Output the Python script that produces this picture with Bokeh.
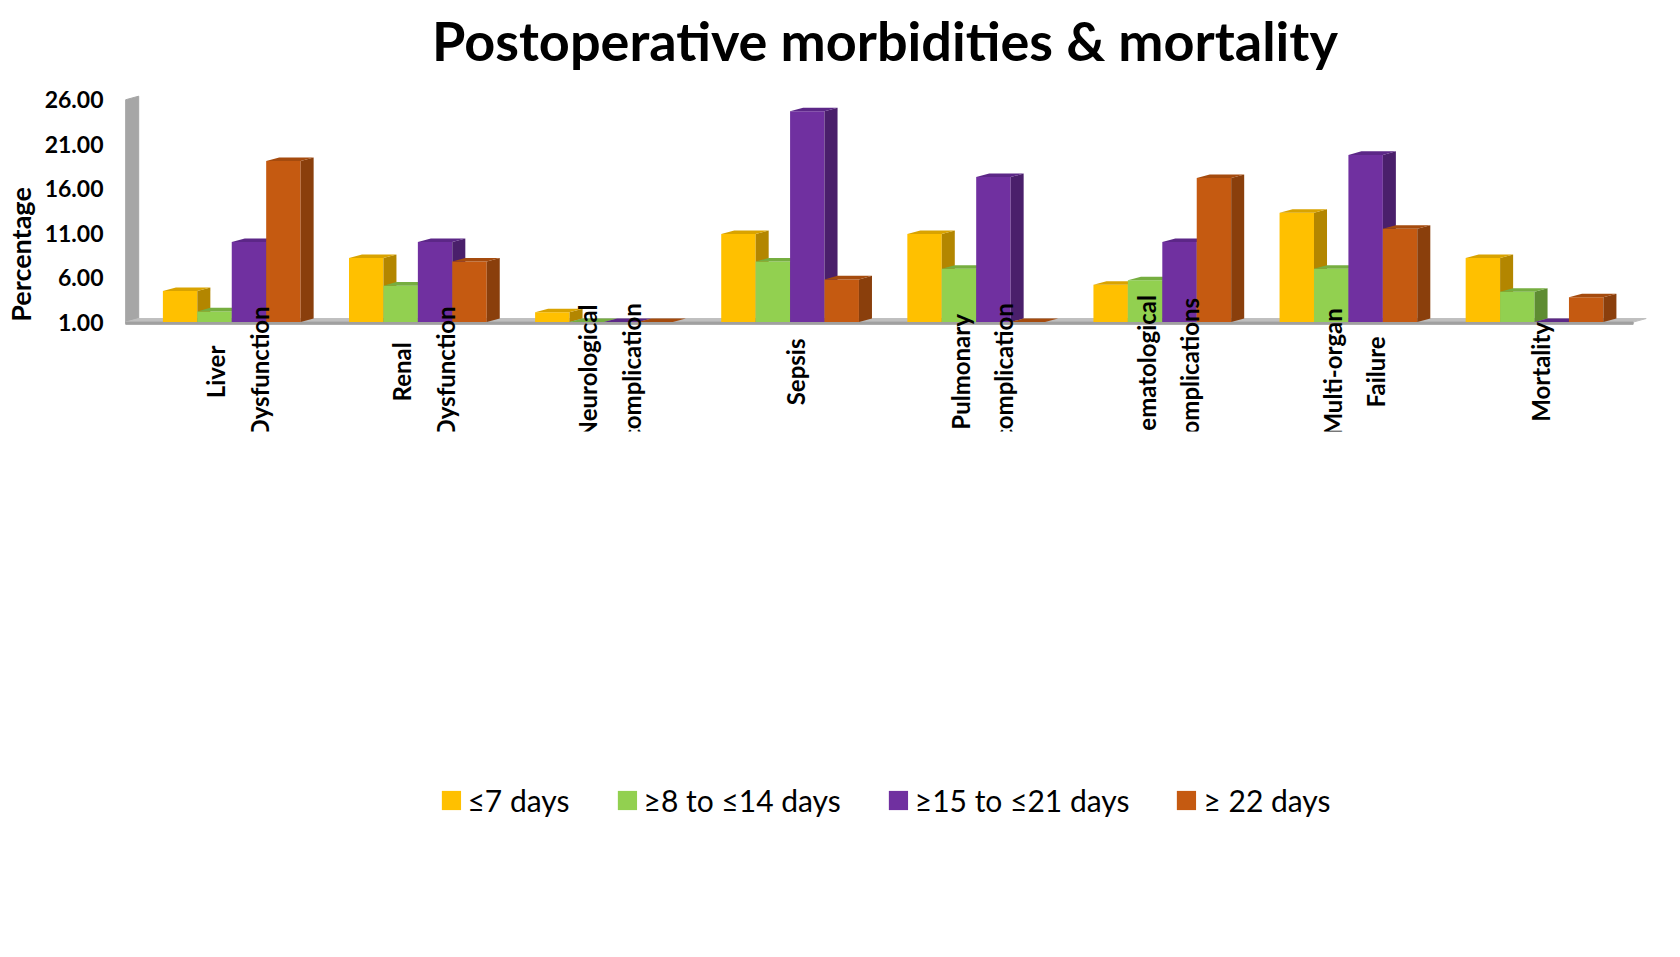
import math
from bokeh.plotting import figure
from bokeh.models import FixedTicker, Legend, LegendItem, Range1d, NumeralTickFormatter
from bokeh.core.properties import value
from bokeh.embed import file_html
from bokeh.resources import INLINE

categories = ["Liver\nDysfunction", "Renal\nDysfunction", "Neurological\ncomplication", "Sepsis",
              "Pulmonary\ncomplication", "Hematological\ncomplications", "Multi-organ\nFailure", "Mortality"]
series_names = ["≤7 days", "≥8 to ≤14 days", "≥15 to ≤21 days", "≥ 22 days"]
le7 = [4.5, 8.2, 2.1, 10.9, 10.9, 5.2, 13.3, 8.2]
d8_14 = [2.2, 5.1, 1.0, 7.8, 7.0, 5.7, 7.0, 4.4]
d15_21 = [10.0, 10.0, 1.0, 24.7, 17.3, 10.0, 19.8, 1.0]
ge22 = [19.1, 7.8, 1.0, 5.8, 1.0, 17.2, 11.5, 3.8]
y_ticks = [1, 6, 11, 16, 21, 26]

series = [le7, d8_14, d15_21, ge22]
front = ["#FFC000", "#92D050", "#7030A0", "#C55A11"]
side = ["#B38600", "#5E8C32", "#4A1F6B", "#8A3F0C"]
topc = ["#D9A300", "#76AE40", "#5C2787", "#A54B0E"]

base = 1.0
w = 0.185
dx, dy = 0.07, 0.4

p = figure(width=1660, height=935, output_backend="svg", toolbar_location=None,
           x_range=Range1d(-0.66, 7.62), y_range=Range1d(-11.3, 28.5),
           title="Postoperative morbidities & mortality", min_border_left=60)
p.title.align = "center"
p.title.text_font = "Lato"
p.title.text_font_size = "54px"
p.title.text_font_style = "bold"
p.title.text_color = "black"
p.outline_line_color = None
p.xgrid.visible = False
p.ygrid.visible = False

# wall and floor
p.patch([-0.6, -0.6 + dx, -0.6 + dx, -0.6], [base, base + dy, 26 + dy, 26], color="#A6A6A6")
p.patch([-0.6, 7.5, 7.5 + dx, -0.6 + dx], [base, base, base + dy, base + dy], color="#BFBFBF")
p.patch([-0.6, 7.5, 7.5, -0.6], [base - 0.25, base - 0.25, base, base], color="#A0A0A0")

items = []
for i, vals in enumerate(series):
    xs = [c + (i - 1.5) * w - 0.03 for c in range(len(categories))]
    r = p.vbar(x=xs, top=vals, bottom=base, width=w, color=front[i], line_color=None)
    items.append(LegendItem(label=series_names[i], renderers=[r]))
    sx, sy, tx, ty = [], [], [], []
    for x, v in zip(xs, vals):
        sx.append([x + w / 2, x + w / 2, x + w / 2 + dx, x + w / 2 + dx])
        sy.append([base, v, v + dy, base + dy])
        tx.append([x - w / 2, x + w / 2, x + w / 2 + dx, x - w / 2 + dx])
        ty.append([v, v, v + dy, v + dy])
    p.patches(sx, sy, color=side[i], line_color=None)
    p.patches(tx, ty, color=topc[i], line_color=None)

# category labels, rotated to read bottom-to-top
p.text(x=list(range(len(categories))), y=[-4.6] * len(categories), text=categories,
       angle=math.pi / 2, text_align="center", text_baseline="middle",
       text_font=value("Lato"), text_font_size="24px", text_font_style="bold",
       text_color="black", text_line_height=1.5)

p.xaxis.visible = False

p.yaxis.ticker = FixedTicker(ticks=y_ticks)
p.yaxis.formatter = NumeralTickFormatter(format="0.00")
p.yaxis.axis_label = "Percentage"
p.yaxis.axis_label_text_font = "Lato"
p.yaxis.axis_label_text_font_size = "27px"
p.yaxis.axis_label_text_font_style = "bold"
p.yaxis.axis_label_text_color = "black"
p.yaxis.major_label_text_font = "Lato"
p.yaxis.major_label_text_font_size = "23px"
p.yaxis.major_label_text_font_style = "bold"
p.yaxis.major_label_text_color = "black"
p.yaxis.axis_line_color = None
p.yaxis.major_tick_line_color = None
p.yaxis.minor_tick_line_color = None

leg = Legend(items=items, orientation="horizontal", location="center",
             label_text_font="Lato", label_text_font_size="30px", label_text_color="black",
             glyph_width=24, glyph_height=24, spacing=45, border_line_color=None, padding=2, margin=2)
p.add_layout(leg, "below")

open("out.html", "w").write(file_html(p, INLINE))
